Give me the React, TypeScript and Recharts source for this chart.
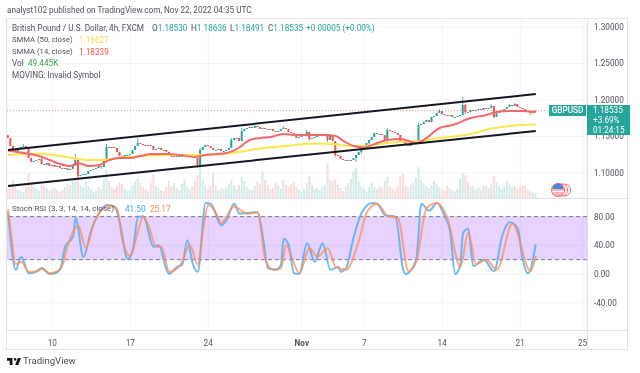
import * as React from "react";
import {
  Bar,
  CartesianGrid,
  ComposedChart,
  Line,
  ReferenceArea,
  ReferenceLine,
  XAxis,
  YAxis,
} from "recharts";

const closes = [
  1.1479, 1.137, 1.1315, 1.1301, 1.1342, 1.1356, 1.137, 1.1342, 1.1205, 1.1151,
  1.1164, 1.1178, 1.1192, 1.1123, 1.111, 1.1137, 1.1096, 1.111, 1.1082, 1.1096,
  1.1068, 1.1055, 1.1068, 1.1041, 1.1055, 1.1096, 1.1178, 1.0959, 1.0972, 1.0986,
  1.0986, 1.1027, 1.1041, 1.1055, 1.1068, 1.1096, 1.1082, 1.1178, 1.1356, 1.1342,
  1.1356, 1.1342, 1.1288, 1.1233, 1.1219, 1.1246, 1.1246, 1.126, 1.1315, 1.137,
  1.1411, 1.1397, 1.1383, 1.137, 1.1383, 1.137, 1.1315, 1.1329, 1.1342, 1.1315,
  1.1315, 1.1288, 1.1246, 1.1219, 1.1233, 1.1233, 1.1219, 1.1233, 1.1246, 1.1246,
  1.1246, 1.1219, 1.1205, 1.111, 1.1315, 1.1356, 1.1383, 1.137, 1.1342, 1.1315,
  1.1315, 1.1329, 1.1301, 1.1301, 1.1315, 1.1342, 1.1452, 1.1479, 1.1479, 1.1438,
  1.1575, 1.1603, 1.1616, 1.163, 1.1616, 1.1644, 1.163, 1.1603, 1.1616, 1.1603,
  1.1589, 1.1603, 1.1575, 1.1562, 1.1575, 1.1603, 1.1616, 1.1603, 1.1562, 1.1548,
  1.1507, 1.1479, 1.1493, 1.1507, 1.152, 1.1562, 1.1466, 1.1479, 1.1493, 1.1507,
  1.152, 1.152, 1.1534, 1.1452, 1.1507, 1.1438, 1.1246, 1.1233, 1.1192, 1.1178,
  1.1178, 1.1164, 1.1178, 1.1205, 1.1246, 1.1288, 1.1342, 1.137, 1.1411, 1.1452,
  1.1493, 1.1548, 1.1534, 1.1534, 1.152, 1.1452, 1.1589, 1.1575, 1.1562, 1.1548,
  1.152, 1.1438, 1.1425, 1.1383, 1.137, 1.1397, 1.1411, 1.1425, 1.1657, 1.1671,
  1.1699, 1.1726, 1.1699, 1.1767, 1.1781, 1.1822, 1.1849, 1.1808, 1.1794, 1.1781,
  1.1794, 1.1767, 1.1767, 1.1781, 1.1794, 1.1931, 1.1836, 1.1836, 1.1863, 1.1849,
  1.1863, 1.1877, 1.1863, 1.189, 1.1877, 1.189, 1.1918, 1.1767, 1.1822, 1.1836,
  1.1863, 1.1877, 1.1904, 1.1931, 1.1918, 1.1945, 1.1904, 1.189, 1.1877, 1.1849,
  1.1836, 1.1822, 1.1836, 1.18535,
];
const firstOpen = 1.152;

// only the wicks long enough to be seen at this size
const highWicks: Record<number, number> = {
  6: 1.1397, 13: 1.1205, 26: 1.126, 38: 1.1397, 50: 1.1479, 74: 1.1342, 86: 1.1479,
  90: 1.1616, 95: 1.1657, 106: 1.1644, 115: 1.1589, 123: 1.1534, 146: 1.1616,
  158: 1.1685, 166: 1.1877, 175: 1.2041, 176: 1.1945, 186: 1.1945, 193: 1.1945, 195: 1.1959,
};
const lowWicks: Record<number, number> = {
  27: 1.0945, 36: 1.1055, 73: 1.1068, 116: 1.1438, 123: 1.1425, 126: 1.1219, 134: 1.1151,
  136: 1.126, 139: 1.1397, 146: 1.1425, 158: 1.1397, 176: 1.1808, 187: 1.1753, 201: 1.1795,
};

const volumes = [
  90, 140, 180, 110, 80, 70, 60, 110, 250, 160, 110, 90, 70, 130, 120, 100, 70, 90, 100, 80,
  60, 80, 110, 140, 130, 170, 190, 220, 130, 110, 170, 120, 90, 60, 70, 110, 90, 200, 280, 170,
  110, 90, 120, 160, 140, 90, 70, 80, 130, 170, 190, 150, 110, 90, 70, 150, 240, 120, 100, 80,
  70, 110, 170, 120, 150, 100, 80, 140, 190, 110, 90, 120, 170, 230, 310, 190, 130, 90, 120, 250,
  120, 80, 100, 90, 110, 140, 180, 120, 90, 130, 210, 170, 110, 90, 80, 120, 160, 140, 270, 180,
  130, 90, 100, 150, 120, 90, 180, 130, 110, 140, 160, 110, 80, 60, 90, 150, 220, 130, 90, 100,
  80, 110, 130, 350, 180, 170, 190, 130, 100, 70, 110, 150, 190, 270, 300, 170, 120, 90, 60, 110,
  150, 110, 90, 120, 100, 170, 210, 120, 90, 70, 110, 220, 240, 120, 100, 130, 160, 200, 310, 180,
  150, 120, 100, 130, 170, 140, 110, 90, 80, 120, 100, 70, 60, 90, 190, 250, 230, 150, 110, 120,
  90, 110, 80, 130, 120, 100, 140, 220, 160, 120, 90, 110, 170, 130, 100, 120, 90, 110, 130, 120,
  90, 70, 60, 49.4,
];

const smma14Bars = [
  0, 6, 12, 16, 20, 24, 27, 31, 35, 39, 43, 47, 51, 55, 62, 66, 72, 75, 80, 84, 89, 93, 97, 101,
  106, 111, 116, 122, 126, 129, 133, 137, 142, 146, 151, 157, 161, 166, 171, 178, 184, 188, 193, 197, 203,
];
const smma14Values = [
  1.1308, 1.1274, 1.1233, 1.1178, 1.1123, 1.1096, 1.1137, 1.1096, 1.111, 1.1178, 1.1205, 1.1205,
  1.1233, 1.126, 1.126, 1.1246, 1.1219, 1.124, 1.126, 1.1274, 1.1349, 1.1452, 1.1479, 1.1493,
  1.1534, 1.152, 1.152, 1.152, 1.1507, 1.1438, 1.137, 1.1349, 1.1411, 1.1452, 1.1466, 1.1411,
  1.1479, 1.1616, 1.1657, 1.1753, 1.1794, 1.1836, 1.1849, 1.1849, 1.18339,
];
const smma50Bars = [
  0, 12, 20, 26, 31, 37, 43, 51, 62, 72, 81, 89, 97, 105, 118, 125, 131, 138, 143, 150, 158, 166,
  178, 185, 193, 203,
];
const smma50Values = [
  1.1246, 1.1267, 1.1233, 1.1198, 1.1178, 1.1178, 1.1205, 1.1233, 1.1246, 1.1246, 1.1253, 1.1288,
  1.1336, 1.1363, 1.1404, 1.1397, 1.137, 1.137, 1.1397, 1.1425, 1.1438, 1.1479, 1.1534, 1.1603,
  1.1644, 1.16627,
];

const stochKBars = [
  0, 3, 5, 8, 10, 13, 16, 18, 20, 22, 25, 26, 29, 32, 35, 38, 41, 43, 46, 48, 50, 52, 56, 58, 61,
  62, 65, 67, 69, 71, 73, 76, 78, 82, 84, 87, 89, 92, 96, 98, 100, 103, 105, 106, 108, 110, 112,
  115, 118, 120, 121, 124, 127, 128, 130, 133, 136, 140, 142, 145, 149, 152, 153, 157, 159, 162,
  165, 168, 170, 172, 174, 175, 177, 179, 183, 187, 190, 193, 196, 198, 200, 203,
];
const stochKValues = [
  86, 6, 24, 1, 2, 8, 0, 1, 6, 38, 52, 78, 24, 61, 85, 96, 94, 71, 21, 33, 80, 80, 38, 40, 6,
  0, 10, 13, 47, 15, 3, 99, 98, 68, 75, 98, 84, 85, 86, 52, 8, 6, 13, 49, 40, 1, 0,
  43, 17, 36, 43, 6, 10, 3, 8, 52, 85, 99, 98, 82, 80, 6, 0, 20, 98, 88,
  99, 80, 61, 0, 13, 57, 63, 11, 20, 4, 52, 72, 64, 20, 1, 41.5,
];
const stochDBars = [
  0, 1, 3, 5, 8, 11, 13, 16, 19, 21, 23, 27, 30, 33, 39, 42, 44, 47, 50, 52, 54, 57, 59, 62, 66,
  70, 73, 75, 77, 80, 82, 87, 92, 96, 99, 102, 105, 107, 109, 112, 116, 119, 123, 126, 130, 135,
  138, 142, 146, 150, 154, 157, 161, 165, 169, 174, 177, 180, 184, 188, 194, 201, 203,
];
const stochDValues = [
  90, 61, 14, 17, 3, 3, 8, 1, 4, 13, 40, 67, 36, 71, 95, 90, 47, 25, 60, 80, 68, 38, 38, 3, 11,
  40, 13, 60, 96, 85, 71, 94, 84, 86, 20, 6, 8, 40, 25, 1, 36, 24, 36, 10, 6, 47,
  86, 98, 81, 78, 4, 17, 92, 99, 78, 10, 57, 14, 20, 6, 70, 4, 25.17,
];

const dateBars = [17, 47, 77, 113, 137, 167, 197, 221];
const dateLabels = ["10", "17", "24", "Nov", "7", "14", "21", "25"];
const priceTicks = [1.1, 1.15, 1.2, 1.25, 1.3];
const stochTicks = [-40, 0, 40, 80];

const upperChannel = [
  { bar: 0, price: 1.1315 },
  { bar: 203, price: 1.2082 },
];
const lowerChannel = [
  { bar: 0, price: 1.0822 },
  { bar: 203, price: 1.1575 },
];

const rows = closes.map((close, bar) => {
  const open = bar === 0 ? firstOpen : closes[bar - 1];
  const high = Math.max(open, close, highWicks[bar] ?? 0);
  const low = Math.min(open, close, lowWicks[bar] ?? 9);
  const pick = (bars: number[], values: number[]) => {
    const at = bars.indexOf(bar);
    return at < 0 ? null : values[at];
  };
  return {
    bar,
    open,
    close,
    high,
    low,
    range: [low, high],
    volume: volumes[bar],
    smma14: pick(smma14Bars, smma14Values),
    smma50: pick(smma50Bars, smma50Values),
    stochK: pick(stochKBars, stochKValues),
    stochD: pick(stochDBars, stochDValues),
  };
});

const UP = "#26a69a";
const DOWN = "#ef5350";
const GRID = "#f0f3fa";
const FRAME = "#e0e3eb";
const AXIS_TEXT = "#50535e";
const FONT = "Roboto, sans-serif";
const FONT_SIZE = 8.2;
const X_DOMAIN: [number, number] = [-0.4, 222.7];

function Candle(props: any) {
  const { x, y, width, height, payload } = props;
  const top = Math.min(y, y + height);
  const span = Math.abs(height);
  const perPrice = span / (payload.high - payload.low || 1);
  const bodyTop = top + (payload.high - Math.max(payload.open, payload.close)) * perPrice;
  const bodyH = Math.max(1, Math.abs(payload.open - payload.close) * perPrice);
  const color = payload.close >= payload.open ? UP : DOWN;
  const cx = x + width / 2;
  return (
    <g>
      <line x1={cx} x2={cx} y1={top} y2={top + span} stroke={color} strokeWidth={0.8} />
      <rect x={cx - 1} y={bodyTop} width={2} height={bodyH} fill={color} />
    </g>
  );
}

function VolumeBar(props: any) {
  const { x, y, width, height, payload } = props;
  return (
    <rect
      x={x + width / 2 - 1}
      y={y}
      width={2}
      height={height}
      fill={payload.close >= payload.open ? "#d3ece9" : "#f9dcdc"}
    />
  );
}

function DateTick(props: any) {
  const { x, y, payload } = props;
  const label = dateLabels[dateBars.indexOf(payload.value)];
  return (
    <text
      x={x}
      y={y + 8}
      textAnchor="middle"
      fontSize={FONT_SIZE}
      fontFamily={FONT}
      fontWeight={label === "Nov" ? 700 : 400}
      fill={AXIS_TEXT}
    >
      {label}
    </text>
  );
}

function Label({ x, y, color, children, size }: any) {
  return (
    <span
      style={{
        position: "absolute",
        left: x,
        top: y - 6,
        lineHeight: "12px",
        fontSize: size ?? FONT_SIZE,
        fontFamily: FONT,
        color: color ?? AXIS_TEXT,
        whiteSpace: "nowrap",
      }}
    >
      {children}
    </span>
  );
}

function Box({ x, y, w, h, color }: any) {
  return <div style={{ position: "absolute", left: x, top: y, width: w, height: h, background: color }} />;
}

function PricePane() {
  return (
    <ComposedChart
      width={620}
      height={180}
      data={rows}
      margin={{ top: 0, right: 0, bottom: 0, left: 0 }}
    >
      <XAxis xAxisId="main" dataKey="bar" type="number" domain={X_DOMAIN} ticks={dateBars} hide allowDataOverflow />
      <XAxis xAxisId="vol" dataKey="bar" type="number" domain={X_DOMAIN} hide allowDataOverflow />
      <YAxis
        yAxisId="price"
        orientation="right"
        width={40}
        domain={[1.0657, 1.3123]}
        ticks={priceTicks}
        tickFormatter={(v: number) => v.toFixed(5)}
        tick={{ fontSize: FONT_SIZE, fontFamily: FONT, fill: AXIS_TEXT }}
        tickLine={false}
        axisLine={false}
        tickSize={0}
        tickMargin={7}
        allowDataOverflow
      />
      <YAxis yAxisId="vol" hide domain={[0, 1800]} allowDataOverflow />
      <CartesianGrid xAxisId="main" yAxisId="price" stroke={GRID} strokeWidth={1} />
      <Bar
        xAxisId="vol"
        yAxisId="vol"
        dataKey="volume"
        barSize={2}
        shape={<VolumeBar />}
        isAnimationActive={false}
      />
      <ReferenceLine
        xAxisId="main"
        yAxisId="price"
        y={closes[closes.length - 1]}
        stroke={DOWN}
        strokeOpacity={0.65}
        strokeDasharray="1 2"
        strokeWidth={1}
      />
      <Bar
        xAxisId="main"
        yAxisId="price"
        dataKey="range"
        barSize={2}
        shape={<Candle />}
        isAnimationActive={false}
      />
      <Line
        xAxisId="main"
        yAxisId="price"
        dataKey="smma50"
        type="monotone"
        stroke="#fbe64d"
        strokeWidth={2}
        dot={false}
        connectNulls
        isAnimationActive={false}
      />
      <Line
        xAxisId="main"
        yAxisId="price"
        dataKey="smma14"
        type="monotone"
        stroke="#f4686a"
        strokeWidth={2}
        dot={false}
        connectNulls
        isAnimationActive={false}
      />
      <ReferenceLine
        xAxisId="main"
        yAxisId="price"
        segment={upperChannel.map((p) => ({ x: p.bar, y: p.price }))}
        stroke="#131722"
        strokeWidth={2}
      />
      <ReferenceLine
        xAxisId="main"
        yAxisId="price"
        segment={lowerChannel.map((p) => ({ x: p.bar, y: p.price }))}
        stroke="#131722"
        strokeWidth={2}
      />
    </ComposedChart>
  );
}

function StochPane() {
  return (
    <ComposedChart
      width={620}
      height={151}
      data={rows}
      margin={{ top: 0, right: 0, bottom: 0, left: 0 }}
    >
      <XAxis
        dataKey="bar"
        type="number"
        domain={X_DOMAIN}
        ticks={dateBars}
        height={19}
        tick={<DateTick />}
        tickLine={false}
        axisLine={false}
        allowDataOverflow
      />
      <YAxis
        orientation="right"
        width={40}
        domain={[-78, 105.9]}
        ticks={stochTicks}
        tickFormatter={(v: number) => v.toFixed(2)}
        tick={{ fontSize: FONT_SIZE, fontFamily: FONT, fill: AXIS_TEXT }}
        tickLine={false}
        axisLine={false}
        tickSize={0}
        tickMargin={7}
        allowDataOverflow
      />
      <CartesianGrid stroke={GRID} strokeWidth={1} />
      <ReferenceArea y1={20} y2={80} fill="#8e1cff" fillOpacity={0.2} stroke="none" />
      <ReferenceLine y={80} stroke="#787b86" strokeDasharray="4 3" />
      <ReferenceLine y={20} stroke="#787b86" strokeDasharray="4 3" />
      <Line
        dataKey="stochK"
        type="monotone"
        stroke="#55adf7"
        strokeOpacity={0.85}
        strokeWidth={2}
        dot={false}
        connectNulls
        isAnimationActive={false}
      />
      <Line
        dataKey="stochD"
        type="monotone"
        stroke="#ff8f52"
        strokeOpacity={0.75}
        strokeWidth={2}
        dot={false}
        connectNulls
        isAnimationActive={false}
      />
    </ComposedChart>
  );
}

export default function App() {
  return (
    <div
      style={{
        position: "fixed",
        left: 0,
        top: 0,
        width: 640,
        height: 373,
        background: "#fff",
        overflow: "hidden",
        filter: "blur(0.3px)",
      }}
    >
      <Label x={7} y={10}>
        analyst102 published on TradingView.com, Nov 22, 2022 04:35 UTC
      </Label>

      <div style={{ position: "absolute", left: 7, top: 18 }}>
        <PricePane />
      </div>
      <div style={{ position: "absolute", left: 7, top: 198 }}>
        <StochPane />
      </div>

      {/* pane frame and separators */}
      <Box x={6} y={18} w={622} h={1} color={FRAME} />
      <Box x={6} y={349} w={622} h={1} color={FRAME} />
      <Box x={6} y={18} w={1} h={332} color={FRAME} />
      <Box x={627} y={18} w={1} h={332} color={FRAME} />
      <Box x={7} y={198} w={620} h={1} color={FRAME} />
      <Box x={7} y={330} w={620} h={1} color={FRAME} />
      <Box x={588} y={331} w={39} h={18} color="#fff" />
      <Box x={587} y={19} w={1} h={330} color={FRAME} />

      <Label x={12} y={28}>British Pound / U.S. Dollar, 4h, FXCM</Label>
      <Label x={152} y={28}>O<span style={{ color: UP }}>1.18530</span></Label>
      <Label x={191} y={28}>H<span style={{ color: UP }}>1.18636</span></Label>
      <Label x={230} y={28}>L<span style={{ color: UP }}>1.18491</span></Label>
      <Label x={268} y={28}>C<span style={{ color: UP }}>1.18535</span></Label>
      <Label x={306} y={28} color={UP}>+0.00005 (+0.00%)</Label>
      <Label x={12} y={40} size={7.7}>SMMA (50, close)</Label>
      <Label x={79} y={40} color="#f5d94a">1.16627</Label>
      <Label x={12} y={52} size={7.7}>SMMA (14, close)</Label>
      <Label x={79} y={52} color={DOWN}>1.18339</Label>
      <Label x={12} y={63}>Vol</Label>
      <Label x={28} y={63} color="#3fa34d">49.445K</Label>
      <Label x={12} y={75}>MOVING: Invalid Symbol</Label>

      <Label x={12} y={209} size={8}>Stoch RSI (3, 3, 14, 14, close)</Label>
      <Label x={125} y={209} color="#42a5f5">41.50</Label>
      <Label x={150} y={209} color="#ff8a50">25.17</Label>

      {/* last price tags */}
      <div
        style={{
          position: "absolute",
          left: 549,
          top: 105,
          width: 37,
          height: 11,
          lineHeight: "11px",
          background: UP,
          color: "#fff",
          fontFamily: FONT,
          fontSize: FONT_SIZE,
          fontWeight: 500,
          textAlign: "center",
        }}
      >
        GBPUSD
      </div>
      <div
        style={{
          position: "absolute",
          left: 587,
          top: 105,
          width: 43,
          height: 30,
          background: UP,
          color: "#fff",
          fontFamily: FONT,
          fontSize: FONT_SIZE,
          lineHeight: "10px",
          paddingLeft: 6,
          boxSizing: "border-box",
        }}
      >
        <div>1.18535</div>
        <div>+3.69%</div>
        <div>01:24:15</div>
      </div>

      {/* upcoming-event flag */}
      <svg style={{ position: "absolute", left: 550, top: 183 }} width={22} height={15}>
        <circle cx={14.5} cy={7} r={6} fill="#fff" stroke="#f4686a" />
        <circle cx={11.5} cy={7} r={6} fill="#fff" stroke="#f4686a" />
        <circle cx={8} cy={7} r={6.5} fill="#f7b5b5" stroke="#f4686a" />
        <path d="M2.5 6 A5.5 5.5 0 0 1 13.5 6 Z" fill="#4f84d6" />
        <rect x={2.5} y={8} width={11} height={1} fill="#fff" />
      </svg>

      <svg style={{ position: "absolute", left: 7, top: 357 }} width={14} height={9} viewBox="0 0 36 22">
        <path d="M14 2H0v7h7v11h7V2zm15 18h-8l7-18h8l-7 18zm-8-11a3.5 3.5 0 1 0 0-7 3.5 3.5 0 0 0 0 7z" fill="#131722" />
      </svg>
      <span
        style={{
          position: "absolute",
          left: 23,
          top: 355,
          lineHeight: "12px",
          fontFamily: FONT,
          fontSize: 9.6,
          color: "#4a4d57",
        }}
      >
        TradingView
      </span>
    </div>
  );
}
